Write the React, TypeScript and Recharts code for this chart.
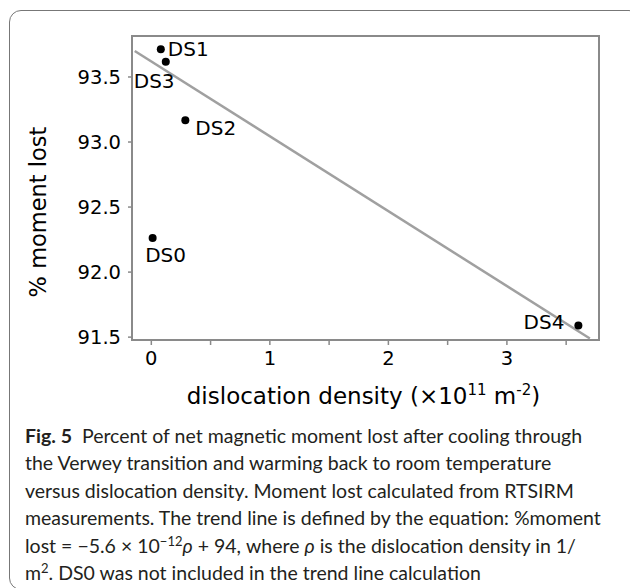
import React from "react";
import {
  ScatterChart,
  Scatter,
  XAxis,
  YAxis,
  ReferenceArea,
  ReferenceLine,
  Label,
} from "recharts";

// sample points
const sampleNames = ["DS0", "DS1", "DS2", "DS3", "DS4"];
const dislocationDensity = [0.011, 0.08, 0.287, 0.122, 3.603]; // x10^11 m^-2
const momentLost = [92.262, 93.713, 93.167, 93.618, 91.59]; // %

// trend line end points
const trendX = [-0.14, 3.7];
const trendY = [93.7, 91.49];

const xTicks = [0, 0.5, 1, 1.5, 2, 2.5, 3, 3.5];
const yTicks = [91.5, 92, 92.5, 93, 93.5];
const xDomain = [-0.163, 3.777];
const yDomain = [91.478, 93.815];

const points = sampleNames.map((name, i) => ({
  name,
  x: dislocationDensity[i],
  y: momentLost[i],
}));

const FONT = "'DejaVu Sans', Verdana, sans-serif";
const FRAME = "#8a8a8a";

// where each point label sits relative to its dot
const labelPos: Record<string, { dx: number; dy: number; anchor: string }> = {
  DS0: { dx: 13, dy: 17, anchor: "middle" },
  DS1: { dx: 7, dy: 0, anchor: "start" },
  DS2: { dx: 10, dy: 8, anchor: "start" },
  DS3: { dx: -32, dy: 19, anchor: "start" },
  DS4: { dx: -14, dy: -3, anchor: "end" },
};

const Dot = (props: any) => {
  const { cx, cy, payload } = props;
  const p = labelPos[payload.name];
  return (
    <g>
      <circle cx={cx} cy={cy} r={4} fill="#000" />
      <text
        x={cx + p.dx}
        y={cy + p.dy}
        textAnchor={p.anchor as any}
        dominantBaseline="central"
        fontFamily={FONT}
        fontSize={20}
        fill="#000"
      >
        {payload.name}
      </text>
    </g>
  );
};

const XTitle = (props: any) => {
  const { viewBox } = props;
  const cx = viewBox.x + viewBox.width / 2 - 2;
  return (
    <text x={cx} y={viewBox.y + 64} textAnchor="middle" fontFamily={FONT} fontSize={23} fill="#000">
      dislocation density (×10
      <tspan fontSize={15} dy={-9}>11</tspan>
      <tspan dy={9}> m</tspan>
      <tspan fontSize={15} dy={-9}>-2</tspan>
      <tspan dy={9}>)</tspan>
    </text>
  );
};

const YTitle = () => (
  <text
    x={38}
    y={212}
    transform="rotate(-90, 38, 212)"
    textAnchor="middle"
    dominantBaseline="central"
    fontFamily={FONT}
    fontSize={22.5}
    fill="#000"
  >
    % moment lost
  </text>
);

const captionLines = [
  "Percent of net magnetic moment lost after cooling through",
  "the Verwey transition and warming back to room temperature",
  "versus dislocation density. Moment lost calculated from RTSIRM",
  "measurements. The trend line is defined by the equation: %moment",
];

export default function App() {
  return (
    <div style={{ position: "absolute", left: 0, top: 0, width: 630, height: 588, overflow: "hidden", background: "#fff" }}>
      <div
        style={{
          position: "absolute",
          left: 9,
          top: 10,
          width: 630,
          height: 578,
          border: "1.5px solid #777",
          borderRadius: 12,
        }}
      />
      <div style={{ position: "absolute", left: 0, top: 0 }}>
        <ScatterChart width={630} height={420} margin={{ top: 36, right: 31, left: 0, bottom: 0 }}>
          <XAxis
            type="number"
            dataKey="x"
            domain={xDomain}
            allowDataOverflow
            ticks={xTicks}
            interval={0}
            tickFormatter={(v: number) => (Number.isInteger(v) ? String(v) : "")}
            height={80}
            axisLine={false}
            tickLine={{ stroke: FRAME, strokeWidth: 1.5 }}
            tickSize={5}
            tickMargin={6}
            tick={{ fill: "#000", fontFamily: FONT, fontSize: 19.5 }}
          >
            <Label content={<XTitle />} />
          </XAxis>
          <YAxis
            type="number"
            dataKey="y"
            domain={yDomain}
            allowDataOverflow
            ticks={yTicks}
            interval={0}
            tickFormatter={(v: number) => v.toFixed(1)}
            width={132}
            axisLine={false}
            tickLine={{ stroke: FRAME, strokeWidth: 1.5 }}
            tickSize={4}
            tickMargin={7}
            tick={{ fill: "#000", fontFamily: FONT, fontSize: 19.5 }}
          >
            <Label content={<YTitle />} />
          </YAxis>
          <ReferenceArea
            x1={xDomain[0]}
            x2={xDomain[1]}
            y1={yDomain[0]}
            y2={yDomain[1]}
            fill="none"
            stroke={FRAME}
            strokeWidth={2}
          />
          <ReferenceLine
            segment={[
              { x: trendX[0], y: trendY[0] },
              { x: trendX[1], y: trendY[1] },
            ]}
            stroke="#a0a0a0"
            strokeWidth={2.5}
          />
          <Scatter data={points} shape={<Dot />} isAnimationActive={false} />
        </ScatterChart>
      </div>
      <div
        style={{
          position: "absolute",
          left: 25,
          top: 422,
          fontFamily: "Lato, 'Open Sans', sans-serif",
          fontSize: 19.5,
          lineHeight: "27.4px",
          color: "#231f20",
          whiteSpace: "nowrap",
        }}
      >
        <div>
          <b>Fig. 5</b>&nbsp; {captionLines[0]}
        </div>
        {captionLines.slice(1).map((l) => (
          <div key={l}>{l}</div>
        ))}
        <div>
          lost = −5.6 × 10<sup style={{ fontSize: 13, lineHeight: 0 }}>−12</sup>
          <i>ρ</i> + 94, where <i>ρ</i> is the dislocation density in 1/
        </div>
        <div>
          m<sup style={{ fontSize: 13, lineHeight: 0 }}>2</sup>. DS0 was not included in the trend line calculation
        </div>
      </div>
    </div>
  );
}
